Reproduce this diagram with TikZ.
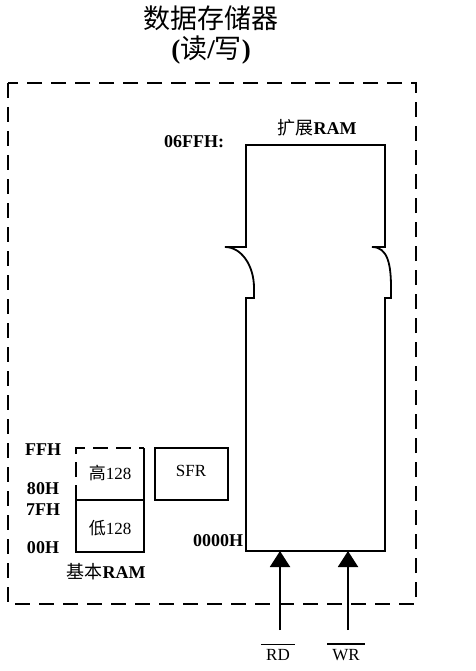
\documentclass[tikz,border=0pt]{standalone}
\usepackage{fontspec}
\setmainfont{Liberation Serif}
\newfontfamily\cjk{Noto Sans CJK SC}
\usetikzlibrary{arrows.meta}

\begin{document}
\begin{tikzpicture}[x=1pt,y=-1pt]

\tikzset{dashbox/.style={line width=2.2pt,dash pattern=on 15pt off 9pt}};
\tikzset{membox/.style={line width=1.8pt}};
\tikzset{addr/.style={font=\fontsize{18}{20}\selectfont\bfseries}};
\tikzset{txt/.style={font=\fontsize{17}{20}\selectfont}};
\tikzset{sigarrow/.style={line width=2pt,-{Triangle[width=20pt,length=16pt]}}};
\tikzset{bar/.style={line width=1.3pt}};

\useasboundingbox (0,0) rectangle (475,671);

% title
\node[font=\fontsize{27}{30}\selectfont\bfseries] (title) at (211,18) {{\cjk\mdseries 数据存储器}};
\node[font=\fontsize{27}{30}\selectfont\bfseries] (rw) at (211,50) {({\cjk\mdseries 读}/{\cjk\mdseries 写})};

% outer frame
\draw[dashbox] (8,83) rectangle (416,604);

\begin{scope}

% expansion RAM
\draw[membox] (246,551) -- (246,298) -- (254,298) -- (254,288)
   .. controls (254,265) and (241,247) .. (225,247) -- (246,247) -- (246,145)
   -- (385,145) -- (385,247) -- (372,247)
   .. controls (388,247) and (391,265) .. (391,288) -- (391,298) -- (385,298) -- (385,551) -- cycle;
\node[addr] (extname) at (317,128) {{\cjk\mdseries 扩展}RAM};
\node[addr] (exttop) at (194,142) {06FFH:};
\node[addr] (extbot) at (218,541) {0000H};

% RD / WR
\coordinate (rdin) at (280,630);
\coordinate (rdend) at (280,551);
\coordinate (wrin) at (348,630);
\coordinate (wrend) at (348,551);
\draw[sigarrow] (rdin) -- (rdend);
\draw[sigarrow] (wrin) -- (wrend);
\node[txt,inner sep=0pt] (rd) at (278,655) {RD};
\node[txt,inner sep=0pt] (wr) at (346,655) {WR};
\draw[bar] ([xshift=-5pt,yshift=5pt]rd.north west) -- ([xshift=5pt,yshift=5pt]rd.north east);
\draw[bar] ([xshift=-5pt,yshift=5pt]wr.north west) -- ([xshift=5pt,yshift=5pt]wr.north east);

\end{scope}

\begin{scope}

% basic RAM
\draw[membox] (76,500) rectangle (144,552);
\draw[membox] (144,500) -- (144,448);
\draw[membox,dash pattern=on 15pt off 8pt] (76,500) -- (76,448) -- (144,448);
\node[txt] (hi) at (110,473) {{\cjk 高}128};
\node[txt] (lo) at (110,528) {{\cjk 低}128};
\node[addr] (basic) at (106,572) {{\cjk\mdseries 基本}RAM};

\node[addr] (aFF) at (43,450) {FFH};
\node[addr] (a80) at (43,489) {80H};
\node[addr] (a7F) at (43,510) {7FH};
\node[addr] (a00) at (43,548) {00H};

% SFR
\draw[membox] (155,448) rectangle (228,500);
\node[txt] (sfr) at (191,471) {SFR};

\end{scope}

\end{tikzpicture}
\end{document}
